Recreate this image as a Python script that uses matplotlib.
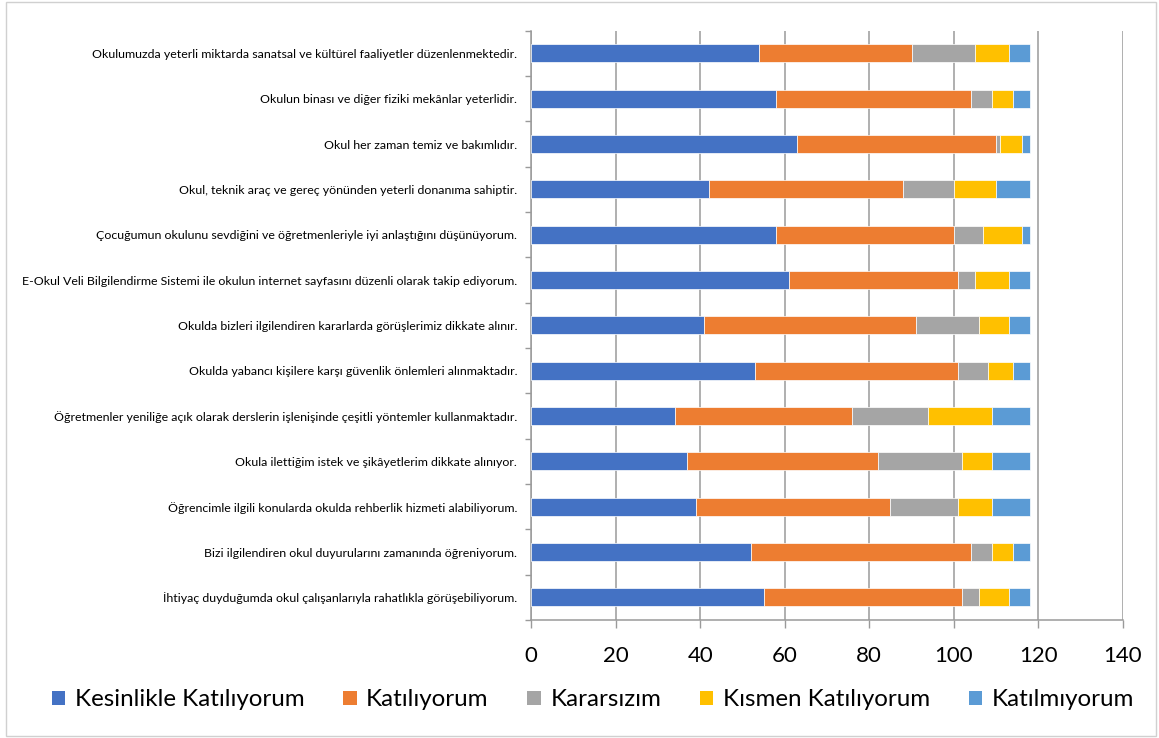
import matplotlib
matplotlib.use('Agg')
import matplotlib.pyplot as plt
import matplotlib.ticker as ticker
from matplotlib.patches import Rectangle, Patch
import numpy as np

plt.rcParams['font.family'] = ['Lato', 'DejaVu Sans']

# Statements, top to bottom as they appear in the chart
statements = [
    'Okulumuzda yeterli miktarda sanatsal ve kültürel faaliyetler düzenlenmektedir.',
    'Okulun binası ve diğer fiziki mekânlar yeterlidir.',
    'Okul her zaman temiz ve bakımlıdır.',
    'Okul, teknik araç ve gereç yönünden yeterli donanıma sahiptir.',
    'Çocuğumun okulunu sevdiğini ve öğretmenleriyle iyi anlaştığını düşünüyorum.',
    'E-Okul Veli Bilgilendirme Sistemi ile okulun internet sayfasını düzenli olarak takip ediyorum.',
    'Okulda bizleri ilgilendiren kararlarda görüşlerimiz dikkate alınır.',
    'Okulda yabancı kişilere karşı güvenlik önlemleri alınmaktadır.',
    'Öğretmenler yeniliğe açık olarak derslerin işlenişinde çeşitli yöntemler kullanmaktadır.',
    'Okula ilettiğim istek ve şikâyetlerim dikkate alınıyor.',
    'Öğrencimle ilgili konularda okulda rehberlik hizmeti alabiliyorum.',
    'Bizi ilgilendiren okul duyurularını zamanında öğreniyorum.',
    'İhtiyaç duyduğumda okul çalışanlarıyla rahatlıkla görüşebiliyorum.',
]

series_names = ['Kesinlikle Katılıyorum', 'Katılıyorum', 'Kararsızım',
                'Kısmen Katılıyorum', 'Katılmıyorum']

kesinlikle = [54, 58, 63, 42, 58, 61, 41, 53, 34, 37, 39, 52, 55]
katiliyorum = [36, 46, 47, 46, 42, 40, 50, 48, 42, 45, 46, 52, 47]
kararsizim = [15, 5, 1, 12, 7, 4, 15, 7, 18, 20, 16, 5, 4]
kismen = [8, 5, 5, 10, 9, 8, 7, 6, 15, 7, 8, 5, 7]
katilmiyorum = [5, 4, 2, 8, 2, 5, 5, 4, 9, 9, 9, 4, 5]

colors = ['#4472C4', '#ED7D31', '#A5A5A5', '#FFC000', '#5B9BD5']

W, H = 1159, 738
fig = plt.figure(figsize=(W / 100, H / 100), dpi=100)

# light frame round the whole chart like the Excel chart area
fig.patches.append(Rectangle((6 / W, 2 / H), 1150 / W, 734 / H, transform=fig.transFigure,
                             fill=False, edgecolor='#d0d0d0', linewidth=1))

ax = fig.add_axes([531 / W, 1 - 620 / H, 592 / W, 589.3 / H])

n = len(statements)
ypos = np.arange(n)[::-1]
left = np.zeros(n)
for vals, name, c in zip([kesinlikle, katiliyorum, kararsizim, kismen, katilmiyorum],
                         series_names, colors):
    ax.barh(ypos, vals, left=left, height=0.4, color=c, edgecolor='white',
            linewidth=0.5, label=name, zorder=3)
    left += np.array(vals)

ax.set_xlim(0, 140)
ax.set_ylim(-0.5, n - 0.5)
ax.xaxis.set_major_locator(ticker.MultipleLocator(20))
ax.grid(axis='x', color='#9a9a9a', linewidth=1.1, zorder=0)

ax.set_yticks(ypos)
ax.set_yticklabels(statements, fontsize=8.9)
ax.yaxis.set_minor_locator(ticker.FixedLocator(np.arange(-0.5, n, 1)))
ax.tick_params(axis='y', which='major', length=0, pad=10)
ax.tick_params(axis='y', which='minor', length=4, color='#9a9a9a', width=1)
ax.tick_params(axis='x', length=6, color='#9a9a9a', width=1, labelsize=16, pad=13)

for s in ['top', 'right']:
    ax.spines[s].set_visible(False)
for s in ['left', 'bottom']:
    ax.spines[s].set_color('#9a9a9a')
    ax.spines[s].set_linewidth(1.1)

handles = [Patch(facecolor=c, label=nm) for c, nm in zip(colors, series_names)]
fig.legend(handles=handles, loc='center', bbox_to_anchor=(593 / W, 1 - 700 / H), ncol=5,
           frameon=False, fontsize=17.4, handlelength=0.55, handleheight=0.55,
           handletextpad=0.4, columnspacing=1.6)

fig.savefig('out.png', dpi=100)
